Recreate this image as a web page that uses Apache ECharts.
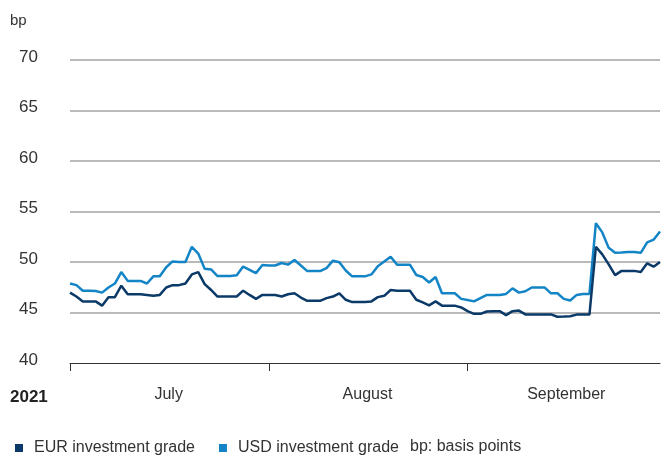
<!DOCTYPE html>
<html>
<head>
<meta charset="utf-8">
<script src="https://cdn.jsdelivr.net/npm/echarts@6/dist/echarts.min.js"></script>
<style>
html,body{margin:0;padding:0;background:#fff;}
#c{width:661px;height:457px;}
</style>
</head>
<body>
<div id="c"></div>
<script>
// Categories: daily dates 1 Jul 2021 – 1 Oct 2021
const startDate = '2021-07-01';
const dayCount = 93;
const monthStartIdx = [0, 31, 62];
const monthLabels = ['July', 'August', 'September'];
const monthLabelIdx = [15, 46, 77];
const yTicks = [40, 45, 50, 55, 60, 65, 70];

const eurIG = [
  46.97,46.58,46.10,46.10,46.10,45.68,46.52,46.52,47.65,46.81,46.81,46.81,46.74,46.65,46.74,47.48,
  47.71,47.71,47.87,48.77,49.00,47.81,47.23,46.58,46.58,46.58,46.58,47.16,46.74,46.35,46.74,
  46.74,46.74,46.58,46.81,46.90,46.48,46.16,46.16,46.16,46.42,46.58,46.90,46.26,46.03,46.03,46.03,
  46.10,46.52,46.65,47.23,47.16,47.16,47.16,46.26,46.00,45.71,46.10,45.68,45.68,45.68,45.50,
  45.13,44.87,44.87,45.10,45.13,45.13,44.74,45.13,45.19,44.81,44.81,44.81,44.81,44.81,44.58,44.60,
  44.63,44.79,44.79,44.79,51.50,50.75,49.77,48.70,49.12,49.12,49.12,49.02,49.87,49.54,50.00
];
const usdIG = [
  47.87,47.71,47.16,47.16,47.13,46.97,47.48,47.87,49.00,48.13,48.13,48.13,47.87,48.58,48.58,49.48,
  50.06,50.00,50.00,51.50,50.84,49.32,49.26,48.61,48.61,48.61,48.68,49.55,49.23,48.90,49.71,
  49.65,49.65,49.90,49.74,50.20,49.65,49.10,49.10,49.10,49.40,50.13,49.97,49.16,48.58,48.58,48.58,
  48.77,49.58,50.06,50.52,49.74,49.74,49.74,48.71,48.52,47.97,48.52,46.90,46.90,46.90,46.35,
  46.23,46.10,46.42,46.74,46.74,46.74,46.84,47.39,46.97,47.10,47.48,47.48,47.48,46.90,46.90,46.35,
  46.19,46.74,46.84,46.84,53.84,52.93,51.40,50.91,50.94,50.98,50.98,50.91,51.95,52.21,53.03
];

const dates = [];
{
  const d0 = new Date(startDate + 'T00:00:00Z');
  for (let i = 0; i < dayCount; i++) {
    const d = new Date(d0.getTime() + i * 86400000);
    dates.push(d.toISOString().slice(0, 10));
  }
}

const EUR_COLOR = '#0b3a68';
const USD_COLOR = '#1384c6';
const FONT = 'Liberation Sans, Arial, sans-serif';
const TXT = '#333333';

const chart = echarts.init(document.getElementById('c'), null, {renderer: 'canvas'});
chart.setOption({
  animation: false,
  backgroundColor: '#ffffff',
  textStyle: {fontFamily: FONT},
  grid: {left: 70, right: 1, top: 60, height: 303, containLabel: false},
  xAxis: {
    type: 'category',
    data: dates,
    boundaryGap: false,
    axisLine: {show: true, lineStyle: {color: '#333333', width: 1}},
    axisTick: {
      show: true, length: 8, inside: false,
      interval: (i) => monthStartIdx.indexOf(i) >= 0,
      lineStyle: {color: '#333333', width: 1}
    },
    axisLabel: {
      show: true,
      interval: (i) => monthLabelIdx.indexOf(i) >= 0,
      formatter: (v, i) => {
        const k = monthLabelIdx.indexOf(i);
        return k >= 0 ? monthLabels[k] : '';
      },
      margin: 24,
      fontSize: 16,
      color: TXT,
      fontFamily: FONT,
      padding: [0, 0, 0, 5]
    },
    splitLine: {show: false}
  },
  yAxis: {
    type: 'value',
    min: yTicks[0],
    max: yTicks[yTicks.length - 1],
    interval: 5,
    axisLine: {show: false},
    axisTick: {show: false},
    axisLabel: {
      margin: 32,
      fontSize: 17,
      color: TXT,
      fontFamily: FONT,
      verticalAlign: 'bottom',
      lineHeight: 6
    },
    splitLine: {show: true, showMinLine: false, lineStyle: {color: '#a3a3a3', width: 1.5}}
  },
  legend: {
    left: 10,
    top: 435,
    itemWidth: 8,
    itemHeight: 8,
    itemGap: 24,
    icon: 'rect',
    textStyle: {fontSize: 16, color: TXT, fontFamily: FONT, padding: [0, 0, 0, 6]},
    data: ['EUR investment grade', 'USD investment grade']
  },
  graphic: [
    {type: 'text', left: 10, top: 13, style: {text: 'bp', fontSize: 15, fill: TXT, fontFamily: FONT}},
    {type: 'text', left: 10, top: 389, style: {text: '2021', fontSize: 17, fontWeight: 'bold', fill: '#222222', fontFamily: FONT}},
    {type: 'text', left: 410, top: 439, style: {text: 'bp: basis points', fontSize: 16, fill: TXT, fontFamily: FONT}}
  ],
  series: [
    {
      name: 'EUR investment grade', type: 'line', data: eurIG,
      showSymbol: false, symbol: 'none',
      lineStyle: {color: EUR_COLOR, width: 2.5},
      itemStyle: {color: EUR_COLOR}, z: 3
    },
    {
      name: 'USD investment grade', type: 'line', data: usdIG,
      showSymbol: false, symbol: 'none',
      lineStyle: {color: USD_COLOR, width: 2.5},
      itemStyle: {color: USD_COLOR}, z: 2
    }
  ]
});
</script>
</body>
</html>
